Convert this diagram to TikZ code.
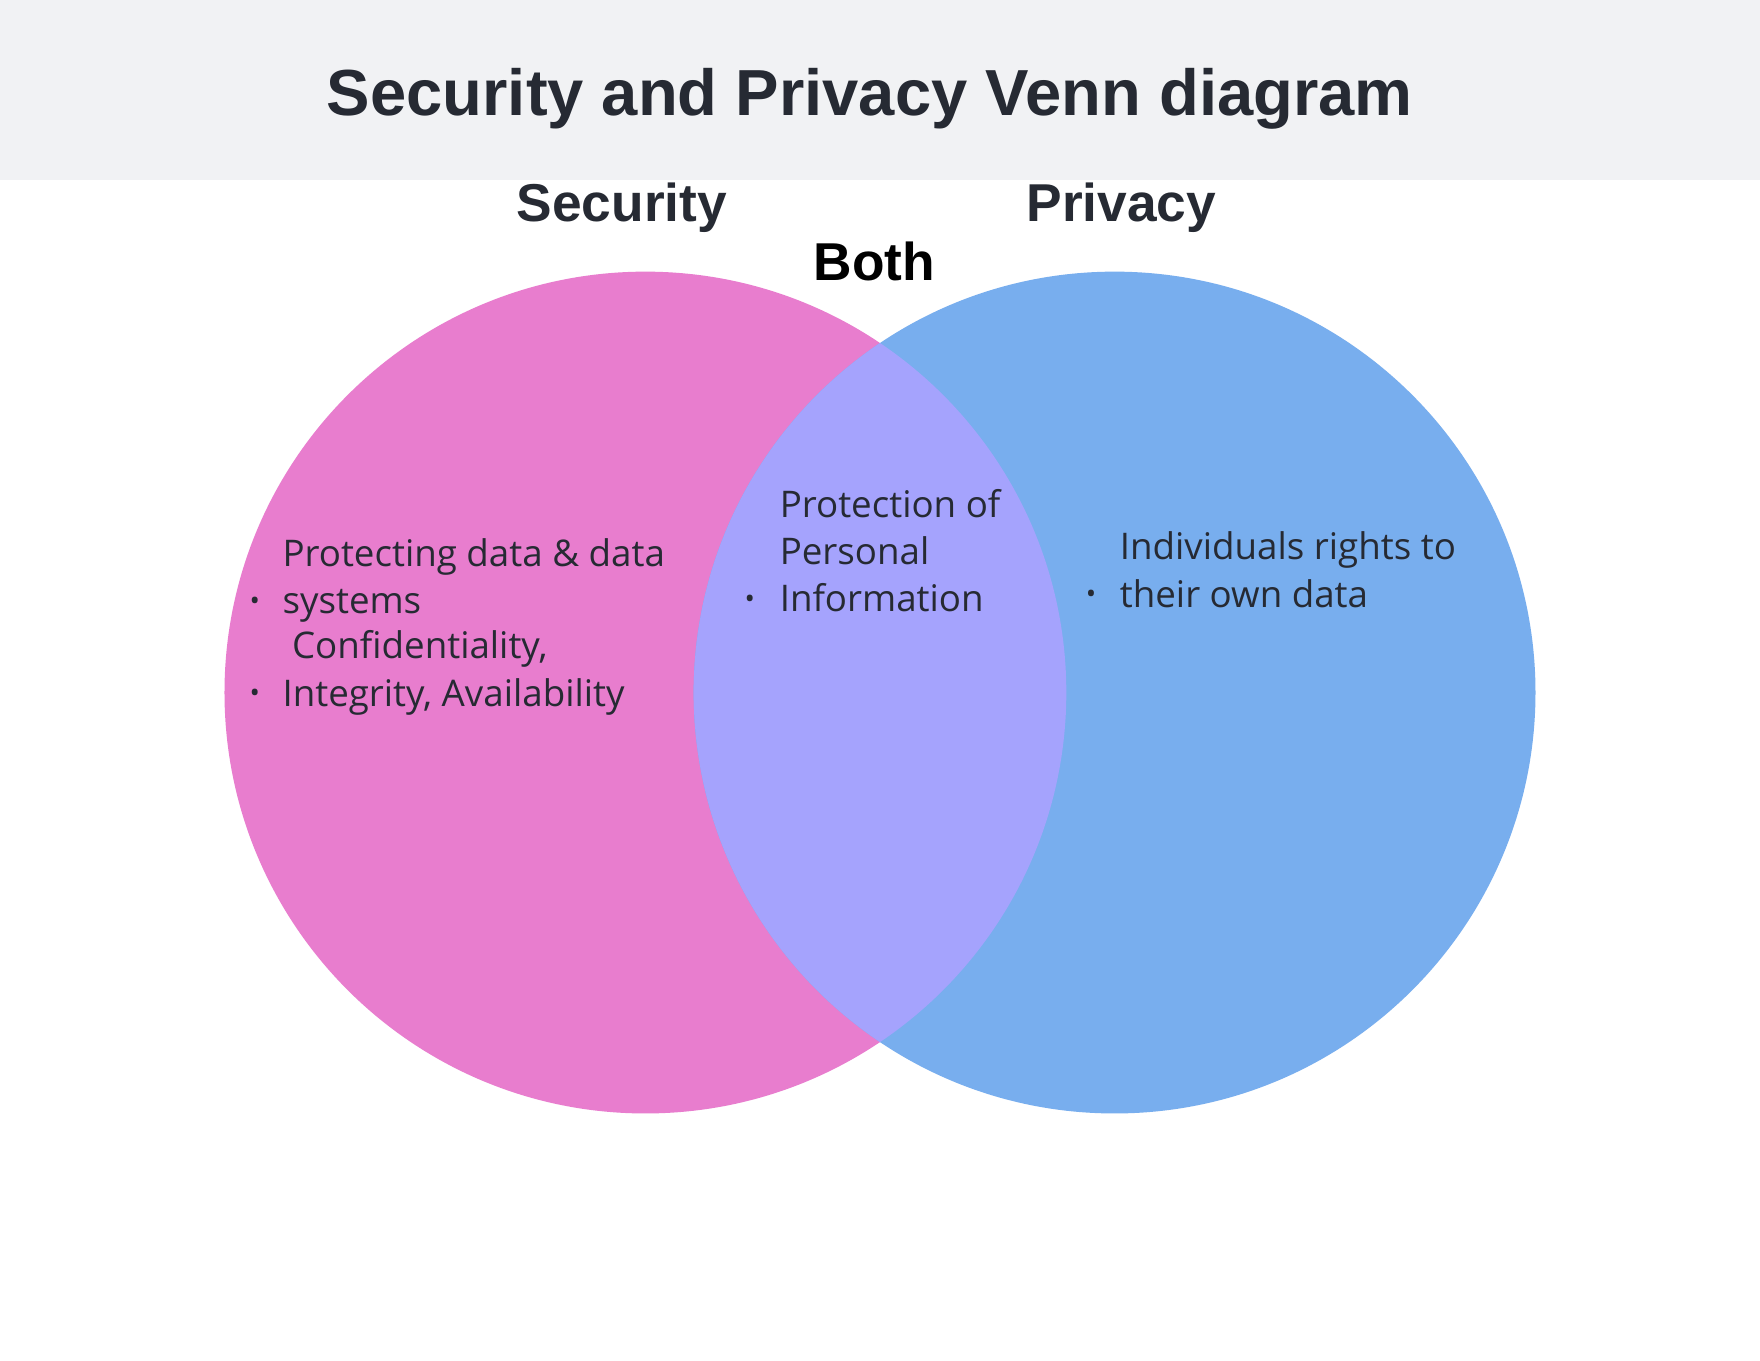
\documentclass[tikz,border=0pt]{standalone}
\usepackage{fontspec}
\setmainfont{Liberation Sans}
\newfontfamily\bodyfont{Open Sans}
\definecolor{hdr}{HTML}{F1F2F4}
\definecolor{pinkc}{HTML}{E87DCE}
\definecolor{bluec}{HTML}{78AEEE}
\definecolor{midc}{HTML}{A5A3FD}
\definecolor{ink}{HTML}{262A33}
\tikzset{
  head/.style={font=\fontsize{13.5}{16}\selectfont\bfseries, text=ink},
  body/.style={font=\bodyfont\fontsize{9.3}{12}\selectfont, text=ink, anchor=base west, align=left, inner sep=0},
  dot/.style={font=\bodyfont\fontsize{7}{8}\selectfont, text=ink, anchor=base, inner sep=0}
}
\begin{document}
\begin{tikzpicture}[x=0.01cm,y=-0.01cm]
\useasboundingbox (0,0) rectangle (1568,1212);
\fill[white] (0,0) rectangle (1568,1212);
\fill[hdr] (0,0) rectangle (1568,160);
\node[font=\fontsize{16.5}{20}\selectfont\bfseries, text=ink] (title) at (775,88) {Security and Privacy Venn diagram};
\fill[pinkc] (575,617) circle (375);
\fill[bluec] (993,617) circle (375);
\begin{scope}
\clip (575,617) circle (375);
\fill[midc] (993,617) circle (375);
\end{scope}
\node[head] (sec) at (554,185) {Security};
\node[head] (pri) at (999,185) {Privacy};
\node[head, text=black] (both) at (779,233) {Both};
\node[dot] (b1) at (227,544) {•};
\node[body] (t1) at (251,547) {Protecting data \& data\\systems};
\node[dot] (b2) at (227,626) {•};
\node[body] (t2) at (251,629) {\ Confidentiality,\\Integrity, Availability};
\node[dot] (b3) at (668,542) {•};
\node[body] (t3) at (694,545) {Protection of\\Personal\\Information};
\node[dot] (b4) at (972,538) {•};
\node[body] (t4) at (997,541) {Individuals rights to\\their own data};
\end{tikzpicture}
\end{document}
